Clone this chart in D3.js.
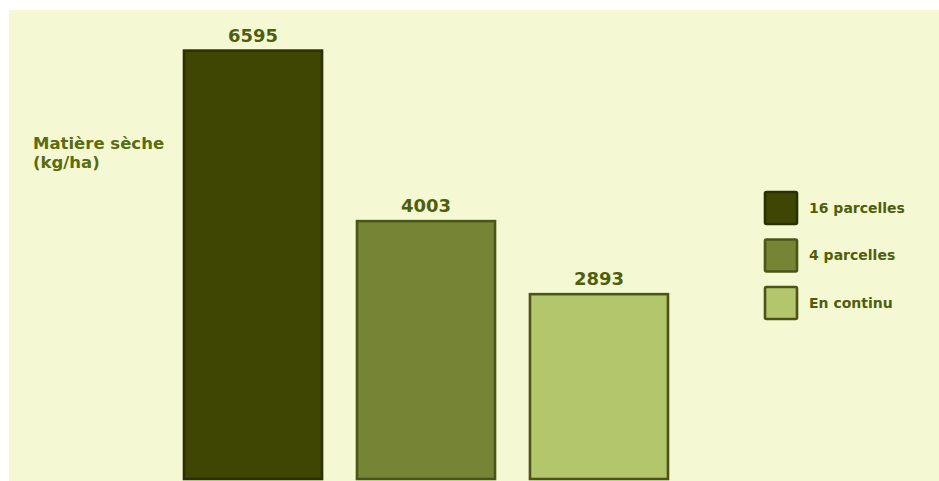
<!DOCTYPE html>
<html>
<head>
<meta charset="utf-8">
<script src="https://cdn.jsdelivr.net/npm/d3@7/dist/d3.min.js"></script>
<style>
  html, body { margin: 0; padding: 0; background: #ffffff; }
  svg { display: block; }
  text { font-family: "DejaVu Sans", "Noto Sans", sans-serif; font-weight: 700; }
</style>
</head>
<body>
<svg id="chart" width="939" height="481"></svg>
<script>
// Dry matter yield per grazing system
const categories = ["16 parcelles", "4 parcelles", "En continu"];
const values = [6595, 4003, 2893];
const fills = ["#3f4502", "#768435", "#b4c66b"];
const strokes = ["#2b3000", "#4a5714", "#4b5414"];
const titleLines = ["Matière sèche", "(kg/ha)"];

const W = 939, H = 481;
const svg = d3.select("#chart");

// panel background
svg.append("rect")
  .attr("x", 9).attr("y", 10)
  .attr("width", W - 9).attr("height", H - 10)
  .attr("fill", "#f4f9d4");

const x = d3.scaleBand()
  .domain(categories)
  .range([184, 668])
  .paddingInner(0.202)
  .paddingOuter(0);

const y = d3.scaleLinear()
  .domain([0, d3.max(values)])
  .range([484.5, 50.6]);

const baseline = 479;

const data = categories.map((c, i) => ({ c, v: values[i], fill: fills[i], stroke: strokes[i] }));

const bars = svg.append("g");
bars.selectAll("rect")
  .data(data)
  .join("rect")
  .attr("x", d => x(d.c))
  .attr("y", d => y(d.v))
  .attr("width", x.bandwidth())
  .attr("height", d => baseline - y(d.v))
  .attr("fill", d => d.fill)
  .attr("stroke", d => d.stroke)
  .attr("stroke-width", 2.6);

bars.selectAll("text")
  .data(data)
  .join("text")
  .attr("x", d => x(d.c) + x.bandwidth() / 2)
  .attr("y", d => y(d.v) - 9)
  .attr("text-anchor", "middle")
  .attr("font-size", 18)
  .attr("fill", "#4f5e0c")
  .text(d => d3.format("d")(d.v));

// axis title
svg.append("text")
  .attr("x", 33).attr("y", 149)
  .attr("font-size", 16.5)
  .attr("fill", "#5a6b10")
  .selectAll("tspan")
  .data(titleLines)
  .join("tspan")
  .attr("x", 33)
  .attr("dy", (d, i) => i === 0 ? 0 : 19)
  .text(d => d);

// legend
const legend = svg.append("g").attr("transform", "translate(765,192)");
const items = legend.selectAll("g")
  .data(data)
  .join("g")
  .attr("transform", (d, i) => `translate(0,${i * 47.5})`);
items.append("rect")
  .attr("width", 32).attr("height", 32)
  .attr("rx", 1.5)
  .attr("fill", d => d.fill)
  .attr("stroke", d => d.stroke)
  .attr("stroke-width", 2.6);
items.append("text")
  .attr("x", 44).attr("y", 16)
  .attr("dy", "0.35em")
  .attr("font-size", 14)
  .attr("fill", "#4f5e0c")
  .text(d => d.c);
</script>
</body>
</html>
